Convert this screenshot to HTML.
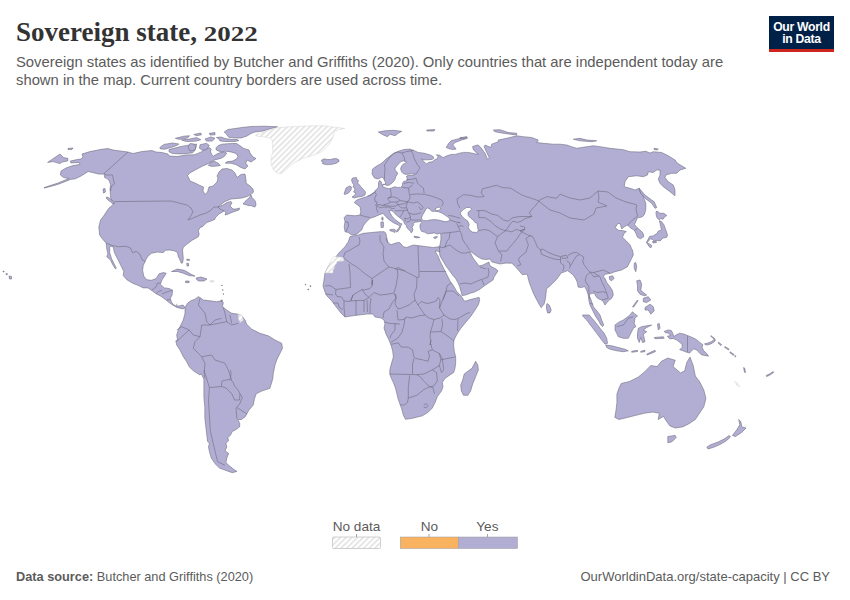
<!DOCTYPE html>
<html><head><meta charset="utf-8">
<style>
html,body{margin:0;padding:0;background:#fff;}
body{width:850px;height:600px;position:relative;overflow:hidden;font-family:"Liberation Sans",Arial,sans-serif;}
.t{position:absolute;white-space:nowrap;}
#title{left:16px;top:16.5px;font-family:"Liberation Serif",serif;font-weight:bold;font-size:27px;line-height:30px;color:#333;}
#yr{display:inline-block;transform:scaleY(0.77);transform-origin:50% 80%;}
#sub{left:16px;top:54px;font-size:14.8px;line-height:17.65px;color:#5b5b5b;}
#logo{position:absolute;left:769px;top:16px;width:65px;height:33px;background:#002147;}
#logobar{position:absolute;left:769px;top:49px;width:65px;height:3px;background:#ce261e;}
#logotxt{position:absolute;left:769px;top:21px;width:65px;text-align:center;color:#fff;font-weight:bold;font-size:12.2px;line-height:12.1px;letter-spacing:-0.3px;}
.lg{position:absolute;font-size:13.6px;line-height:16px;color:#5b5b5b;width:80px;text-align:center;}
#foot1{left:16px;top:569px;font-size:12.75px;color:#5b5b5b;}
#foot2{right:20px;top:569px;font-size:13px;color:#5b5b5b;}
</style></head><body>
<svg width="850" height="600" viewBox="0 0 850 600" style="position:absolute;left:0;top:0">
<defs>
<pattern id="hatch" patternUnits="userSpaceOnUse" width="4" height="4" patternTransform="rotate(45)">
<rect width="4" height="4" fill="#fff"/><rect width="1.4" height="4" fill="#dedede"/>
</pattern>
</defs>
<g fill="#b2aed3" stroke="#666477" stroke-width="0.55" stroke-linejoin="round">
<path d="M44.0,187.6 L58.0,183.0 L69.0,178.4 L63.6,177.6 L60.4,175.0 L61.0,171.0 L66.0,168.0 L73.0,165.6 L80.0,164.4 L79.0,162.4 L71.0,163.0 L70.4,161.0 L77.0,159.6 L81.0,159.0 L83.0,157.0 L82.0,154.0 L90.0,151.6 L98.0,150.0 L100.0,149.5 L108.0,148.5 L113.0,150.0 L128.0,152.0 L133.0,153.5 L142.0,151.5 L152.0,150.5 L156.0,152.0 L162.0,152.5 L168.0,154.0 L169.0,156.0 L178.0,156.5 L185.0,155.0 L194.2,154.8 L197.8,153.4 L201.3,151.9 L204.1,149.8 L206.9,148.1 L209.8,147.7 L211.2,149.1 L210.5,151.9 L211.9,154.8 L213.3,156.2 L216.8,154.1 L220.4,152.6 L223.9,151.9 L226.7,153.0 L224.6,156.2 L221.1,158.3 L216.8,159.4 L214.0,160.1 L211.2,161.8 L207.6,163.9 L202.7,166.1 L197.1,168.9 L192.1,171.7 L190.0,172.8 L187.5,175.5 L189.0,178.5 L190.0,181.0 L195.0,183.0 L200.0,185.5 L203.5,187.0 L203.0,191.0 L205.0,194.5 L207.5,192.0 L209.0,187.0 L213.0,186.0 L217.0,182.0 L218.0,178.0 L217.0,176.0 L219.0,172.0 L222.0,169.0 L227.0,168.5 L232.0,170.0 L235.0,173.0 L237.0,177.5 L241.0,174.5 L245.0,174.0 L246.0,180.0 L246.0,183.0 L250.0,186.0 L253.0,189.0 L253.5,192.0 L251.0,194.5 L247.0,196.5 L242.0,198.0 L237.0,198.5 L231.0,199.0 L225.0,201.5 L221.0,204.5 L218.0,207.0 L223.0,205.0 L227.0,202.5 L231.0,201.5 L232.0,203.0 L230.0,206.0 L233.0,209.0 L236.0,209.0 L239.5,208.0 L239.0,210.0 L233.0,212.0 L227.0,214.5 L225.0,215.0 L226.0,212.0 L224.0,211.0 L219.0,214.0 L215.0,218.0 L215.0,219.2 L211.7,220.8 L206.7,222.5 L205.0,224.2 L202.5,226.7 L200.0,227.5 L198.3,230.8 L199.2,234.2 L198.3,236.7 L195.8,238.3 L192.5,240.0 L189.2,242.5 L185.8,245.0 L183.3,247.5 L182.5,250.0 L182.9,254.2 L183.3,259.2 L182.5,262.9 L181.3,263.3 L180.0,260.0 L178.3,256.7 L177.5,252.5 L174.2,250.8 L169.2,250.0 L165.6,250.3 L163.2,252.6 L157.4,252.1 L151.5,253.2 L147.9,256.2 L145.6,260.3 L143.2,265.6 L142.6,270.3 L143.8,276.2 L146.8,279.7 L151.5,280.3 L156.2,278.5 L159.1,273.8 L163.2,272.6 L166.2,273.2 L164.4,276.2 L162.1,279.7 L160.3,284.4 L164.4,287.9 L169.1,288.5 L172.6,290.3 L172.1,295.0 L170.3,298.5 L171.5,302.1 L173.2,304.4 L176.0,306.0 L179.0,306.0 L183.0,305.0 L185.0,307.5 L183.0,309.0 L177.0,307.5 L172.6,305.0 L169.1,302.6 L165.6,299.7 L160.9,296.2 L156.2,293.8 L151.5,290.3 L147.9,287.9 L143.2,287.9 L138.5,285.6 L132.6,283.2 L126.8,279.7 L123.2,275.6 L123.8,271.5 L120.9,265.6 L117.4,258.5 L114.4,252.6 L113.2,246.8 L110.9,246.2 L109.7,247.4 L109.7,252.6 L111.5,258.5 L113.8,263.2 L116.2,267.9 L115.6,269.1 L112.6,264.4 L110.3,259.7 L106.8,256.8 L107.9,253.8 L106.8,249.1 L106.2,243.2 L102.1,238.5 L99.7,235.0 L98.8,227.0 L100.6,220.0 L104.1,215.3 L108.8,208.2 L112.4,205.3 L114.7,201.8 L112.0,200.5 L110.6,198.0 L110.6,195.0 L110.4,194.1 L110.0,189.4 L110.6,184.7 L109.4,181.2 L107.6,178.8 L104.7,177.6 L104.1,174.1 L98.8,174.1 L94.1,172.9 L88.2,171.5 L81.2,175.9 L75.3,178.8 L70.6,179.4 L57.6,184.5 L44.7,188.0Z"/><path d="M185.0,307.5 L187.5,303.3 L190.8,300.8 L195.0,299.2 L198.3,296.7 L200.0,297.5 L203.3,300.0 L210.0,300.8 L216.7,301.7 L221.7,300.8 L223.3,302.5 L222.5,306.7 L226.7,310.0 L231.7,313.3 L238.3,314.2 L241.7,315.8 L245.0,320.0 L246.7,324.2 L251.7,329.2 L260.0,333.3 L268.3,335.8 L275.0,340.0 L281.7,343.3 L282.5,348.3 L280.0,353.3 L276.7,360.0 L275.0,365.0 L273.3,373.3 L272.7,379.2 L269.9,388.3 L261.7,391.1 L256.2,393.8 L254.3,399.3 L253.4,404.8 L248.8,410.3 L245.2,416.8 L241.5,419.5 L237.8,419.5 L239.7,423.2 L239.7,426.8 L236.0,429.6 L232.3,431.4 L230.5,435.1 L227.8,437.8 L228.7,440.6 L225.9,443.3 L226.8,447.0 L225.0,450.7 L228.7,453.4 L226.8,458.0 L225.9,462.6 L228.7,465.3 L233.3,469.0 L236.9,471.4 L232.3,472.7 L226.8,470.8 L219.5,468.1 L214.9,463.5 L211.3,458.0 L209.4,451.6 L208.5,447.0 L209.4,443.3 L207.6,441.5 L206.7,434.2 L205.8,426.8 L204.8,417.7 L204.8,406.7 L203.9,397.5 L203.9,388.3 L203.9,379.2 L201.2,373.7 L200.0,375.0 L193.3,370.8 L189.2,366.7 L186.7,361.7 L183.3,356.7 L180.0,350.0 L176.7,345.0 L175.8,340.8 L177.5,340.0 L176.7,335.0 L178.3,330.0 L180.8,325.0 L183.3,320.0 L185.0,313.3Z"/><path d="M351.7,235.0 L348.3,232.5 L345.0,231.7 L344.2,226.7 L345.0,221.7 L344.2,217.5 L346.7,215.0 L355.0,215.8 L360.0,215.0 L360.8,211.7 L360.0,206.7 L354.2,202.5 L356.7,200.0 L361.7,198.3 L366.7,196.7 L370.0,195.0 L375.0,191.7 L377.0,189.0 L378.5,187.0 L378.5,183.0 L379.5,180.5 L381.0,181.5 L382.0,184.5 L383.0,185.5 L385.9,183.2 L384.7,180.9 L383.5,178.5 L382.0,177.0 L378.0,179.0 L374.5,178.0 L372.0,174.0 L372.5,169.0 L376.0,166.5 L382.0,163.0 L386.0,159.0 L390.0,156.0 L394.0,153.0 L399.0,151.0 L404.0,149.5 L410.0,149.1 L414.1,150.7 L418.2,152.4 L424.0,153.2 L429.8,154.8 L433.1,156.5 L433.9,158.1 L432.2,159.4 L428.1,159.8 L424.0,159.8 L421.5,158.9 L423.2,161.0 L426.5,163.9 L429.0,162.2 L432.2,161.8 L434.7,159.8 L437.2,158.9 L438.0,156.5 L436.4,154.8 L439.7,155.2 L443.0,157.7 L446.2,156.1 L451.2,154.4 L455.3,154.4 L459.4,153.2 L463.5,152.4 L467.7,152.4 L472.6,153.2 L475.9,154.0 L478.4,154.4 L473.4,149.9 L472.6,146.6 L475.9,145.4 L478.3,145.0 L480.8,147.5 L485.0,153.3 L487.5,159.2 L489.2,157.5 L486.7,152.5 L484.2,146.7 L485.0,145.0 L490.8,147.5 L491.7,144.2 L498.3,141.7 L498.3,140.0 L506.7,138.3 L516.7,135.8 L523.3,136.7 L531.7,137.5 L538.3,140.0 L536.7,142.5 L543.3,143.3 L553.3,144.2 L560.0,144.2 L566.7,145.0 L571.7,146.7 L576.7,148.3 L581.7,147.5 L586.7,146.7 L593.3,145.8 L600.0,146.7 L610.0,148.3 L623.3,149.7 L630.0,151.7 L640.0,152.0 L645.8,151.3 L650.0,153.0 L653.3,151.7 L661.7,152.5 L668.3,155.8 L675.0,160.0 L677.5,163.3 L685.8,168.3 L680.0,170.0 L676.7,173.3 L671.7,173.3 L665.8,175.0 L665.0,177.5 L668.3,181.7 L673.3,185.0 L675.0,190.0 L675.0,195.8 L670.0,191.7 L663.3,186.7 L660.0,183.3 L658.3,179.2 L660.0,175.0 L660.0,170.0 L656.7,170.0 L653.3,172.5 L648.3,171.7 L647.5,175.0 L643.3,176.7 L636.7,175.8 L628.3,176.7 L625.0,181.7 L624.2,186.7 L630.0,188.3 L635.0,190.0 L639.2,188.3 L640.0,191.7 L643.3,196.7 L645.8,203.3 L645.8,205.0 L645.8,209.5 L644.3,214.8 L642.0,217.0 L637.5,217.8 L636.5,220.0 L634.5,224.5 L636.8,227.5 L639.8,229.8 L642.8,232.8 L643.9,236.5 L640.5,238.8 L637.5,237.3 L636.0,233.5 L634.5,230.5 L632.3,229.0 L630.0,227.5 L627.8,225.3 L626.3,225.6 L623.3,227.5 L621.8,229.0 L621.0,226.8 L620.3,223.8 L618.0,223.4 L615.8,226.8 L615.0,227.5 L618.8,230.5 L622.5,230.5 L626.3,231.6 L624.0,233.5 L622.5,237.3 L626.3,241.0 L630.0,244.8 L631.5,248.5 L632.5,250.0 L633.3,255.0 L631.7,258.3 L629.2,263.3 L627.5,266.7 L621.7,270.0 L615.0,271.7 L610.8,273.3 L605.0,274.2 L603.3,276.7 L605.0,278.3 L606.7,282.5 L610.0,286.7 L612.5,290.8 L613.3,295.0 L611.7,298.3 L608.3,300.8 L605.0,305.0 L603.3,301.7 L601.7,300.0 L599.2,299.2 L596.7,297.5 L594.2,293.3 L590.8,293.3 L589.2,295.8 L590.8,299.2 L593.3,306.7 L597.5,311.7 L600.0,315.0 L601.7,320.0 L603.7,325.0 L602.5,326.5 L600.5,324.5 L599.2,321.7 L595.8,316.7 L593.3,311.7 L590.0,305.0 L588.8,300.0 L588.2,294.7 L586.5,290.0 L584.7,286.5 L581.2,287.6 L578.2,287.1 L577.1,281.8 L575.3,278.2 L572.9,274.7 L570.6,272.9 L567.6,270.6 L564.7,271.8 L561.2,272.9 L560.0,274.7 L556.5,279.4 L552.9,282.9 L549.4,286.5 L546.5,288.8 L545.9,294.7 L545.3,299.4 L544.1,304.1 L541.2,307.6 L539.4,304.7 L536.5,299.4 L533.5,293.5 L531.2,287.6 L529.4,282.9 L528.2,278.2 L527.1,274.1 L522.4,274.7 L518.8,270.6 L515.3,266.5 L511.8,263.2 L506.0,263.1 L500.0,264.0 L492.0,262.0 L490.0,259.0 L486.0,259.5 L482.0,259.0 L478.0,257.0 L474.0,254.0 L470.0,251.0 L470.0,252.0 L473.0,258.0 L476.0,262.0 L479.0,266.0 L483.0,265.0 L487.0,263.0 L489.0,262.0 L489.5,265.0 L492.0,267.0 L496.0,269.0 L498.0,271.0 L496.0,274.0 L494.0,277.0 L493.0,280.0 L490.0,282.0 L487.0,284.0 L483.2,286.8 L479.1,289.7 L474.4,292.1 L470.3,293.2 L465.6,295.0 L462.1,295.6 L460.9,290.9 L459.7,286.8 L457.9,282.6 L455.6,278.5 L452.6,275.0 L449.0,270.0 L446.0,266.0 L443.0,261.0 L440.0,256.0 L439.5,252.0 L439.2,246.7 L440.1,244.5 L440.9,239.5 L440.9,235.4 L440.1,232.9 L437.6,234.2 L434.3,232.9 L431.0,233.4 L427.7,233.8 L424.4,232.1 L421.5,231.3 L420.3,228.8 L419.9,226.4 L420.3,223.9 L422.0,222.2 L421.1,221.4 L418.7,221.8 L415.4,222.2 L412.9,223.5 L413.7,224.7 L412.1,227.2 L412.9,229.7 L412.1,232.1 L411.2,232.9 L410.4,231.3 L408.8,229.7 L407.1,228.0 L406.3,225.5 L404.7,223.9 L403.8,221.4 L402.2,219.8 L399.7,217.7 L397.2,215.7 L394.8,213.6 L393.1,211.5 L391.5,210.7 L389.0,210.7 L390.2,213.2 L392.3,216.5 L394.8,219.4 L398.1,221.8 L400.5,223.5 L402.2,223.9 L401.4,224.7 L399.7,228.8 L398.1,231.3 L396.4,232.1 L397.2,229.7 L398.9,228.0 L399.7,226.4 L398.1,224.7 L394.8,223.5 L391.5,221.4 L388.2,218.9 L385.7,216.5 L383.2,213.5 L380.0,214.4 L375.0,216.7 L370.0,218.3 L365.8,222.5 L363.3,225.8 L361.7,230.0 L356.7,234.2Z"/><path d="M350.0,236.7 L353.3,235.8 L358.3,235.0 L363.3,233.3 L371.7,232.5 L380.0,231.7 L384.1,231.7 L385.7,232.9 L386.5,236.2 L387.4,241.2 L389.0,243.7 L391.5,244.5 L396.4,242.8 L399.7,242.5 L403.3,246.7 L406.7,247.5 L413.3,245.0 L420.0,245.8 L426.7,246.7 L433.3,247.5 L439.2,246.7 L440.0,252.0 L437.0,251.0 L435.0,251.0 L438.0,256.0 L440.0,261.0 L443.0,267.0 L447.0,275.0 L450.0,281.0 L453.0,285.0 L456.8,291.5 L460.3,295.0 L462.1,297.4 L463.8,300.3 L465.0,301.2 L469.7,299.7 L474.4,298.5 L479.1,297.4 L479.7,299.7 L478.5,304.4 L475.0,310.0 L471.0,316.0 L466.0,322.0 L461.0,328.0 L457.0,334.0 L454.0,340.0 L453.6,345.7 L454.3,351.3 L455.7,357.0 L455.7,362.7 L455.0,368.3 L453.6,372.6 L449.3,375.4 L445.1,378.3 L442.3,382.5 L443.0,386.8 L441.5,391.0 L439.4,393.8 L437.3,396.7 L435.2,402.3 L432.3,408.0 L428.1,412.3 L422.4,415.8 L416.8,417.2 L411.1,418.6 L405.4,419.3 L403.3,415.1 L401.9,409.4 L399.8,403.8 L398.3,399.5 L396.9,393.8 L395.5,388.2 L393.4,382.5 L391.3,378.3 L389.8,374.0 L389.8,369.8 L391.3,364.1 L393.4,357.0 L392.7,351.3 L391.3,346.0 L389.0,340.0 L386.0,334.0 L384.0,328.0 L385.0,324.0 L384.0,320.0 L381.0,318.0 L375.0,317.0 L373.0,314.0 L367.0,314.0 L359.0,315.0 L351.0,316.0 L345.0,317.0 L341.0,313.0 L337.0,308.0 L334.0,304.0 L331.0,300.0 L327.0,296.0 L325.0,292.0 L323.0,286.0 L324.0,280.0 L325.0,273.0 L328.0,267.0 L331.0,262.0 L335.0,258.0 L336.7,255.8 L340.0,251.7 L345.0,246.7 L348.3,241.7Z"/><path d="M321.5,160.1 L323.0,159.5 L324.1,158.8 L327.0,159.6 L330.6,159.5 L334.0,158.6 L337.1,158.8 L339.0,160.0 L339.0,161.4 L335.8,163.4 L330.6,164.6 L325.4,164.6 L322.2,163.4 L323.5,162.0 L321.8,161.5Z"/><path d="M352.5,178.0 L356.5,177.5 L357.0,180.0 L358.5,180.5 L357.5,183.0 L359.5,185.0 L361.0,187.0 L363.0,189.0 L365.5,192.0 L365.0,195.0 L362.0,196.5 L358.0,197.0 L354.0,198.0 L352.0,197.0 L355.0,195.0 L356.0,193.0 L353.5,192.0 L355.0,190.0 L354.5,188.0 L353.0,187.0 L354.0,185.0 L352.5,183.0 L351.5,180.0Z"/><path d="M344.0,194.0 L346.0,188.0 L349.5,186.0 L351.5,187.0 L351.0,190.0 L348.5,193.0 L345.0,194.5Z"/><path d="M383.0,184.3 L385.0,184.5 L385.0,185.8 L383.0,185.8Z"/><path d="M378.3,132.0 L385.0,130.8 L393.3,130.3 L401.7,131.3 L398.3,133.3 L395.0,135.8 L390.0,134.2 L387.5,136.7 L383.3,135.0Z"/><path d="M446.2,147.4 L448.7,143.3 L451.2,140.8 L456.7,139.2 L466.7,136.7 L467.5,138.3 L461.7,140.0 L455.0,142.5 L452.8,144.9 L456.1,149.1 L452.8,149.5 L448.7,148.6Z"/><path d="M493.3,130.0 L500.0,129.7 L508.3,132.5 L516.7,133.3 L516.7,135.0 L510.0,134.2 L501.7,133.0 L495.0,131.7Z"/><path d="M573.3,139.2 L580.0,138.3 L586.7,140.0 L596.7,140.8 L591.7,141.7 L580.0,140.8Z"/><path d="M460.0,137.5 L466.7,137.0 L465.0,138.7 L460.0,138.5Z"/><path d="M426.7,130.0 L435.0,129.6 L434.0,131.0 L427.0,131.0Z"/><path d="M654.0,148.3 L658.3,149.0 L657.0,150.0 L654.0,149.5Z"/><path d="M639.2,188.3 L645.0,195.0 L651.7,200.0 L654.2,201.7 L656.7,207.5 L655.0,208.3 L651.7,203.3 L645.0,198.3 L640.8,193.3Z"/><path d="M655.9,212.1 L657.0,211.0 L660.0,213.3 L663.8,213.3 L666.8,215.5 L664.5,217.0 L663.0,219.3 L660.8,218.5 L659.3,220.0 L657.0,217.8 L656.3,215.5Z"/><path d="M659.3,220.8 L661.5,221.5 L663.8,224.5 L664.9,227.5 L666.0,230.5 L667.5,235.0 L666.8,237.3 L663.0,238.0 L660.0,241.0 L657.0,240.3 L654.8,241.8 L652.5,239.5 L650.3,238.8 L648.0,241.8 L646.5,242.5 L649.5,236.5 L653.3,235.8 L657.0,233.5 L658.1,231.3 L661.5,229.8 L660.8,226.8 L660.0,223.0Z"/><path d="M652.5,241.5 L656.0,241.0 L656.5,242.5 L653.0,243.0Z"/><path d="M646.5,242.5 L649.5,244.0 L651.8,245.5 L651.0,247.8 L649.5,247.0 L648.0,244.8Z"/><path d="M634.2,263.3 L635.8,262.5 L636.7,266.7 L635.8,271.7 L634.2,268.3Z"/><path d="M609.2,276.7 L612.5,275.8 L614.2,278.3 L611.7,280.8 L609.7,279.7Z"/><path d="M547.1,303.5 L549.4,305.3 L551.2,310.0 L550.0,312.9 L547.6,312.9 L546.5,308.8 L546.5,305.3Z"/><path d="M636.7,280.8 L640.0,280.0 L641.7,284.2 L640.8,290.0 L643.3,292.5 L646.7,295.0 L644.2,295.8 L640.0,294.2 L637.5,290.8 L637.5,285.8Z"/><path d="M643.3,298.3 L648.3,296.7 L650.8,300.0 L646.7,302.5 L643.3,301.7Z"/><path d="M645.0,307.5 L650.0,304.2 L653.3,306.7 L654.2,310.8 L650.8,314.2 L648.3,310.0 L645.0,310.0Z"/><path d="M632.5,306.7 L637.5,300.0 L638.0,300.8 L633.5,307.2Z"/><path d="M582.5,315.0 L589.2,315.0 L595.0,321.7 L600.0,328.3 L604.2,333.3 L606.7,338.3 L607.5,343.3 L605.0,344.2 L601.7,340.0 L596.7,333.3 L591.7,326.7 L586.7,320.0 L583.3,316.7Z"/><path d="M657.5,324.2 L659.2,323.3 L660.0,328.3 L658.3,330.0Z"/><path d="M654.2,337.5 L663.3,336.7 L664.2,338.3 L655.0,338.7Z"/><path d="M605.8,345.0 L611.7,345.8 L618.3,347.5 L625.0,349.2 L628.3,350.8 L623.3,351.7 L616.7,350.8 L610.0,349.2 L606.7,347.5Z"/><path d="M631.7,351.3 L637.5,350.3 L637.5,351.5 L631.7,352.3Z"/><path d="M640.8,351.3 L645.0,350.3 L645.0,351.6 L640.8,352.3Z"/><path d="M646.7,354.2 L651.0,352.0 L655.0,350.3 L655.5,351.5 L651.0,353.5 L647.0,355.0Z"/><path d="M615.0,325.0 L618.3,322.5 L623.3,320.0 L626.7,317.5 L630.0,315.0 L632.5,311.7 L635.0,314.2 L637.5,315.8 L635.0,318.3 L634.2,323.3 L635.8,326.7 L633.3,328.3 L630.8,333.3 L628.3,338.3 L623.3,338.3 L618.3,336.7 L616.7,333.3 L615.0,330.0Z"/><path d="M638.3,328.3 L641.7,326.7 L646.7,325.8 L651.7,325.0 L646.7,327.5 L643.3,330.0 L646.7,331.7 L643.3,334.2 L645.0,341.7 L642.5,342.5 L640.8,337.5 L639.2,342.5 L637.5,338.3 L637.5,333.3Z"/><path d="M664.1,331.5 L668.2,329.9 L671.5,330.7 L672.7,333.2 L673.9,336.5 L676.4,334.8 L679.7,333.2 L683.8,334.0 L688.0,335.7 L692.9,337.7 L696.2,339.4 L699.5,342.2 L702.8,344.7 L702.0,347.2 L703.6,350.5 L706.9,353.8 L708.5,356.2 L704.4,355.4 L701.1,354.6 L698.7,352.1 L696.2,349.7 L693.7,348.8 L691.2,351.3 L689.6,353.0 L686.3,352.1 L682.2,350.5 L679.7,349.7 L682.2,347.2 L682.2,344.7 L679.7,342.2 L676.4,339.8 L673.1,338.5 L669.8,338.9 L668.2,337.3 L667.4,336.1 L670.6,335.7 L669.0,333.2 L665.7,332.8Z"/><path d="M704.4,343.9 L707.7,343.1 L711.8,341.4 L713.5,339.8 L715.5,339.8 L714.3,341.8 L710.9,343.9 L706.9,345.1Z"/><path d="M711.0,335.7 L715.1,338.9 L714.6,339.4 L710.6,336.2Z"/><path d="M619.1,387.8 L621.2,383.5 L629.6,381.4 L638.1,377.2 L644.5,371.9 L650.8,365.5 L657.2,366.6 L661.4,361.3 L667.8,358.1 L675.2,360.2 L673.1,366.6 L680.5,372.9 L684.7,370.8 L686.8,362.4 L690.0,357.1 L693.2,365.5 L695.3,376.1 L699.5,381.4 L703.8,389.9 L705.9,398.4 L703.8,406.8 L699.5,413.2 L695.3,419.5 L688.9,423.8 L682.6,426.9 L675.2,428.0 L669.9,425.9 L666.7,421.6 L663.5,416.4 L658.2,419.5 L659.3,413.2 L652.9,412.1 L644.5,413.2 L636.0,415.3 L627.5,417.4 L619.1,419.5 L614.8,417.4 L615.9,411.1 L616.9,402.6 L616.9,394.1Z"/><path d="M667.8,436.5 L675.2,435.4 L676.2,437.5 L672.0,441.8 L667.8,442.8Z"/><path d="M738.7,419.5 L740.8,421.6 L741.9,426.9 L746.1,428.0 L741.9,432.2 L735.5,436.5 L732.4,435.4 L736.6,430.1 L739.8,424.8Z"/><path d="M729.2,435.4 L724.9,438.6 L718.6,441.8 L710.1,444.9 L706.9,447.1 L708.0,449.0 L713.0,447.5 L720.0,444.5 L726.0,441.0 L730.5,437.0Z"/><path d="M475.6,361.3 L477.7,364.8 L478.4,369.8 L475.6,376.8 L472.7,383.9 L470.6,391.0 L467.8,395.3 L463.5,395.3 L461.4,391.0 L460.7,385.3 L462.8,379.7 L464.2,374.0 L467.8,371.2 L472.0,368.3Z"/><path d="M171.5,271.5 L177.4,269.1 L184.4,270.3 L190.3,273.8 L195.0,276.2 L189.1,275.6 L183.2,273.2 L177.4,271.5Z"/><path d="M186.8,259.1 L189.5,259.5 L189.5,260.5 L186.8,260.2Z"/><path d="M186.8,263.2 L188.5,263.5 L188.5,266.0 L187.0,266.0Z"/><path d="M196.0,278.0 L201.0,277.0 L207.0,279.0 L204.0,281.0 L199.0,281.0 L197.0,280.0Z"/><path d="M185.6,281.0 L189.1,281.0 L189.1,282.6 L185.6,282.6Z"/><path d="M243.0,204.0 L245.0,201.5 L249.0,198.0 L251.0,195.0 L252.0,197.5 L254.0,199.5 L255.5,201.5 L256.0,205.0 L255.0,207.0 L253.0,206.5 L251.0,205.5 L249.0,205.8 L247.0,205.0 L245.0,204.5Z"/><path d="M216.1,147.7 L218.2,145.6 L221.8,144.2 L226.7,143.8 L232.4,143.5 L236.6,143.5 L240.8,146.3 L243.6,148.4 L249.0,150.0 L250.0,153.0 L253.0,157.0 L256.0,158.5 L251.0,162.0 L247.0,160.0 L245.8,163.2 L247.9,166.1 L245.1,168.9 L240.8,167.5 L235.9,164.6 L230.9,163.2 L225.3,163.2 L226.7,161.8 L232.4,161.1 L236.6,159.0 L238.0,156.2 L235.9,153.4 L230.9,151.9 L225.3,151.2 L221.8,151.9 L218.2,150.9 L216.1,149.8Z"/><path d="M208.4,165.4 L210.5,162.5 L214.0,161.1 L218.2,163.2 L220.4,165.4 L216.8,166.1 L211.9,166.4Z"/><path d="M224.2,131.9 L228.0,129.5 L235.0,128.5 L242.0,127.5 L251.0,126.5 L265.0,126.2 L277.5,126.8 L271.0,128.5 L263.0,131.0 L255.0,132.0 L251.0,133.5 L247.0,136.0 L241.0,138.0 L235.0,138.0 L229.0,137.5 L226.3,134.0Z"/><path d="M216.5,137.5 L221.0,137.0 L225.0,138.5 L231.0,139.5 L237.0,139.5 L239.0,140.5 L235.0,141.5 L225.0,141.5 L220.0,141.0 L219.0,139.0Z"/><path d="M159.8,147.5 L164.0,144.4 L172.5,143.0 L178.9,144.0 L176.8,145.4 L171.1,147.5 L164.7,149.2 L160.5,148.9Z"/><path d="M169.0,149.6 L179.6,146.8 L186.7,145.4 L192.3,144.7 L196.6,144.0 L195.9,147.5 L194.5,151.0 L192.3,152.9 L186.7,153.5 L179.6,153.9 L172.5,153.5 L169.0,151.8Z"/><path d="M175.3,138.3 L183.8,136.2 L189.5,135.7 L188.1,137.6 L183.8,139.0 L178.9,139.3Z"/><path d="M181.7,140.1 L189.5,139.0 L196.6,137.6 L200.8,139.7 L196.6,141.1 L186.7,141.6Z"/><path d="M193.8,134.5 L200.8,133.0 L201.5,134.8 L196.6,135.7Z"/><path d="M205.1,139.0 L210.8,136.9 L215.0,138.3 L212.2,141.1 L206.5,141.1Z"/><path d="M209.3,133.3 L215.0,132.6 L215.0,134.8 L210.0,135.0Z"/><path d="M200.1,144.7 L206.5,143.3 L209.3,145.4 L206.5,149.6 L202.3,150.3 L199.4,148.2Z"/><path d="M190.0,143.5 L194.0,144.0 L196.0,147.0 L195.0,150.0 L190.0,151.0 L188.0,147.0Z"/><path d="M47.6,162.4 L60.0,154.0 L63.6,157.6 L68.0,158.4 L67.6,161.0 L62.0,162.0 L60.0,163.6 L53.0,161.6Z"/><path d="M68.0,148.4 L73.0,148.0 L72.0,149.4 L68.0,149.6Z"/><path d="M106.5,197.0 L108.5,197.5 L112.0,200.5 L114.2,203.3 L113.0,203.8 L109.0,200.8 L106.5,198.5Z"/><path d="M103.0,189.0 L105.0,188.5 L105.5,192.0 L103.5,193.0Z"/><path d="M381.6,217.7 L382.8,216.9 L383.2,219.8 L382.0,220.2Z"/><path d="M380.8,222.2 L383.2,221.8 L383.6,224.7 L383.2,227.6 L381.2,227.6 L380.8,224.7Z"/><path d="M389.8,229.7 L393.9,229.2 L395.6,230.1 L394.8,232.5 L392.3,231.3 L390.2,230.9Z"/><path d="M414.1,236.2 L417.8,236.7 L419.9,237.5 L416.2,237.9 L414.1,237.2Z"/><path d="M433.5,237.5 L436.8,236.2 L437.6,237.1 L435.1,238.7Z"/><path d="M9.0,276.0 L11.5,276.5 L11.5,279.0 L9.5,279.0Z"/><path d="M6.0,273.5 L7.5,273.8 L7.2,274.8 L6.0,274.6Z"/><path d="M3.0,271.0 L4.2,271.3 L4.0,272.0 L3.0,271.9Z"/><path d="M718.6,342.2 L721.8,344.8 L721.0,345.6 L718.0,343.0Z"/><path d="M725.0,346.5 L729.2,349.2 L728.5,350.0 L724.5,347.3Z"/><path d="M730.2,351.8 L734.0,354.5 L733.4,355.4 L729.8,352.6Z"/><path d="M735.0,355.5 L736.0,356.3 L735.5,357.0 L734.5,356.2Z"/><path d="M743.6,367.6 L744.6,368.0 L745.5,372.5 L744.5,372.3Z"/><path d="M766.2,375.5 L769.4,374.0 L773.2,371.5 L773.6,372.5 L770.0,375.0 L766.6,376.6Z"/><path d="M305.2,284.2 L306.0,284.5 L305.6,285.2Z"/><path d="M310.0,285.5 L311.0,286.0 L310.5,287.0Z"/><path d="M307.5,289.5 L309.0,289.0 L308.5,290.0Z"/><path d="M221.5,285.0 L222.3,285.3 L222.0,286.0Z"/><path d="M222.5,289.5 L223.2,289.8 L222.8,290.6Z"/><path d="M223.0,293.5 L223.8,293.8 L223.4,294.6Z"/><path d="M221.0,300.0 L222.5,300.2 L222.2,301.3 L221.0,301.2Z"/>
</g>
<g fill="#fff" stroke="#666477" stroke-width="0.55">
<path d="M421.7,217.5 L422.5,215.0 L424.2,212.5 L425.8,209.2 L427.5,207.9 L430.0,209.2 L431.7,211.3 L435.0,211.3 L438.3,211.7 L441.7,212.9 L445.0,215.0 L447.9,217.1 L450.0,219.2 L448.3,221.3 L445.0,221.7 L441.7,220.8 L438.3,220.0 L434.2,219.6 L430.0,220.0 L426.7,220.8 L423.3,220.4 L421.7,219.2Z"/><path d="M435.0,208.8 L437.5,207.5 L440.0,207.1 L440.8,209.2 L438.3,210.4 L435.8,210.4Z"/><path d="M460.4,212.5 L463.3,209.6 L466.7,207.5 L470.0,207.5 L471.7,209.2 L470.0,210.8 L467.9,212.5 L468.3,215.8 L470.8,218.3 L473.3,220.0 L475.0,222.5 L477.1,223.3 L477.5,226.7 L478.3,230.8 L476.7,232.5 L472.5,232.1 L469.6,230.0 L468.3,227.5 L469.2,224.2 L467.5,220.8 L465.0,219.2 L462.5,216.7 L460.8,214.6Z"/><path d="M401.2,161.5 L403.5,160.9 L406.5,161.8 L405.3,163.2 L402.9,164.4 L401.2,166.8 L400.6,169.1 L401.8,172.1 L403.5,173.8 L406.5,174.4 L410.6,173.8 L415.3,174.1 L412.9,175.3 L408.2,175.3 L406.5,176.2 L407.1,178.5 L407.6,180.3 L405.9,180.9 L403.5,181.5 L402.6,183.2 L402.4,185.6 L400.6,187.4 L397.6,187.4 L394.7,186.8 L391.8,187.9 L388.8,188.8 L385.9,187.9 L382.9,186.8 L382.4,185.0 L384.7,184.4 L387.1,185.6 L389.4,185.0 L391.8,183.2 L394.1,180.9 L395.3,178.5 L395.9,176.2 L397.6,173.8 L397.1,172.1 L395.3,170.9 L395.0,168.5 L396.5,166.2 L398.8,163.8 L400.3,162.1Z"/>
</g>
<g fill="url(#hatch)" stroke="#cfcfcf" stroke-width="0.45">
<path d="M238.3,314.2 L241.7,315.0 L243.3,320.0 L240.0,322.5 L238.3,318.3Z"/><path d="M334.0,256.5 L343.5,257.5 L343.5,261.0 L337.0,261.5 L336.5,264.0 L335.0,265.0 L334.0,269.0 L333.0,269.5 L333.0,273.0 L325.0,273.0 L327.0,269.0 L330.0,263.0 L332.0,259.0Z"/><path d="M255.5,134.9 L263.3,132.3 L271.0,129.7 L277.5,127.8 L285.3,127.1 L298.2,126.5 L311.2,125.8 L324.1,125.8 L333.2,127.1 L344.8,128.4 L338.4,129.7 L334.5,131.6 L333.2,136.8 L330.6,142.0 L326.7,147.2 L322.8,151.1 L317.6,153.6 L309.9,156.2 L302.1,158.8 L294.4,162.7 L289.2,166.6 L284.0,171.8 L281.4,173.7 L277.5,173.1 L273.6,170.5 L271.1,164.0 L271.1,157.5 L273.0,151.7 L272.4,147.2 L272.4,140.7 L269.8,138.1 L263.3,136.8 L256.8,136.2Z"/><path d="M210.0,280.6 L214.0,280.6 L214.0,282.0 L210.0,282.0Z"/><path d="M734.5,381.4 L737.0,382.5 L739.8,386.7 L737.5,386.0Z"/>
</g>
<g fill="none" stroke="#666477" stroke-width="0.55" stroke-linejoin="round">
<path d="M359.0,237.0 L360.0,241.0 L359.0,245.0 L355.0,247.0 L350.0,250.0 L345.0,252.5 L343.5,257.0"/><path d="M343.5,257.5 L350.0,263.0 L357.0,267.0 L364.0,273.0 L372.0,278.5 L380.0,273.0 L389.0,267.0"/><path d="M349.0,264.0 L350.0,273.0 L350.5,287.5 L336.0,289.5 L330.0,285.5 L325.0,286.0"/><path d="M372.0,278.5 L372.0,285.0 L372.5,280.0"/><path d="M380.0,235.0 L380.0,241.0 L384.0,247.0 L383.0,253.0 L384.0,261.0 L388.0,266.0 L389.0,267.0"/><path d="M386.0,238.0 L388.0,243.0"/><path d="M389.0,267.0 L397.0,269.0 L405.0,271.0"/><path d="M397.0,269.0 L398.0,275.0 L397.0,280.0 L396.0,286.0 L394.0,292.5"/><path d="M336.0,289.5 L335.5,294.0 L337.0,296.5 L341.5,297.0 L344.0,301.0 L350.0,301.5 L353.0,295.0 L362.0,289.5 L364.0,290.0 L370.0,288.5 L372.0,286.0 L372.5,280.0"/><path d="M353.0,295.0 L351.0,301.0 L356.0,300.5 L364.0,300.5 L369.0,297.5 L365.0,294.0 L362.0,289.5"/><path d="M369.0,297.5 L374.0,292.5 L380.0,295.0 L386.0,294.5 L394.0,293.0 L396.0,295.0"/><path d="M396.0,295.0 L396.0,298.0 L392.0,303.0 L389.0,309.0 L384.0,312.0 L383.0,318.0"/><path d="M371.0,298.0 L370.0,306.0 L370.0,313.0"/><path d="M364.0,300.5 L364.0,312.0"/><path d="M367.0,300.0 L367.5,312.0"/><path d="M356.0,300.5 L356.0,315.0"/><path d="M344.0,301.0 L344.0,308.0 L345.0,317.0"/><path d="M333.0,303.0 L338.0,303.0 L339.0,307.0 L341.5,309.0 L343.0,309.0"/><path d="M325.0,294.0 L330.0,294.5 L333.0,295.0"/><path d="M418.0,246.0 L418.5,260.0 L419.0,271.0 L419.0,277.0 L417.0,277.5 L398.0,267.5 L395.0,269.0"/><path d="M419.5,271.5 L446.0,271.5"/><path d="M417.0,277.5 L416.5,288.0 L414.0,294.0 L415.0,300.0 L409.0,305.0 L402.0,308.0 L398.0,309.0 L395.0,304.0 L396.0,298.0 L394.5,294.0"/><path d="M451.0,283.0 L447.0,286.0 L446.0,292.0 L443.0,300.0"/><path d="M446.0,291.0 L453.0,291.0 L459.0,296.0"/><path d="M446.0,291.0 L441.0,304.0 L439.5,308.0 L444.0,315.0"/><path d="M418.0,305.0 L421.0,301.5 L427.0,303.5 L432.0,302.5 L436.0,301.0 L438.0,297.5 L440.0,300.0 L439.5,308.0"/><path d="M415.0,300.0 L418.0,305.0 L425.0,315.0 L429.0,318.0 L434.0,319.5 L440.0,318.0 L444.0,315.0"/><path d="M425.0,315.0 L418.0,316.0 L412.0,318.0 L406.0,317.0 L404.0,319.5 L398.0,320.0 L397.0,310.0"/><path d="M444.0,315.0 L450.0,319.0 L455.0,319.5 L459.0,318.0 L464.0,315.0 L470.0,312.0"/><path d="M458.0,319.0 L457.5,331.0"/><path d="M434.0,319.5 L432.0,327.0 L430.5,332.0 L441.0,331.5 L442.5,325.0 L442.0,319.0"/><path d="M441.0,331.5 L449.0,337.0 L454.0,341.0"/><path d="M430.5,332.0 L430.0,337.0 L431.0,341.0 L430.0,345.0 L430.9,340.0"/><path d="M405.0,318.0 L404.0,325.0 L402.0,332.0 L398.0,338.0 L393.0,341.0 L391.0,342.5"/><path d="M385.0,322.0 L390.0,323.5 L400.0,324.0"/><path d="M395.0,323.0 L395.0,330.0 L391.0,335.0 L390.0,338.0"/><path d="M391.3,344.3 L398.3,342.8 L401.2,347.1 L408.3,347.1 L412.5,349.9 L413.9,357.0 L415.3,358.4"/><path d="M413.9,358.4 L412.5,364.1 L412.5,374.0"/><path d="M389.8,374.0 L416.8,374.7"/><path d="M415.3,358.4 L422.4,359.8 L428.1,361.3 L429.5,355.6 L428.1,351.3 L432.3,349.9 L430.9,344.0"/><path d="M432.3,349.9 L439.4,353.5 L440.8,359.8 L439.4,365.5 L432.3,369.8"/><path d="M440.8,359.8 L455.0,357.0"/><path d="M439.4,353.5 L442.3,358.4 L443.7,369.8 L441.5,372.6 L439.4,365.5"/><path d="M416.8,374.7 L423.8,374.0 L432.3,369.8"/><path d="M432.3,369.8 L436.6,372.6 L437.3,381.1 L433.8,386.0 L429.5,386.8"/><path d="M416.8,374.7 L420.3,376.8 L423.8,381.1 L429.5,386.8"/><path d="M409.7,375.4 L408.3,386.8 L408.3,398.1"/><path d="M408.3,398.1 L416.8,395.3 L423.8,389.6 L429.5,386.8 L433.0,387.5 L434.5,393.8"/><path d="M408.3,398.1 L407.5,402.3 L404.0,405.2 L400.5,404.5"/><path d="M423.8,405.2 L426.0,403.5 L428.1,405.5 L426.0,408.0 L423.8,407.0"/><path d="M440.0,246.0 L441.0,248.0"/><path d="M441.0,248.0 L444.0,247.0 L450.0,245.0 L456.0,250.0 L461.0,253.0 L466.0,253.0 L468.0,252.0 L470.0,253.0"/><path d="M460.0,284.0 L465.0,283.0 L471.0,284.0 L475.0,282.0 L480.0,280.0 L483.0,279.0 L488.0,277.0 L489.0,272.0 L488.0,268.0"/><path d="M482.0,280.0 L484.0,285.0"/><path d="M480.0,267.0 L486.0,269.0"/><path d="M384.5,179.5 L384.5,175.0 L385.0,170.0 L384.5,165.0 L387.0,161.0 L390.0,157.0 L394.0,153.5 L398.0,152.0 L402.0,153.0 L405.0,152.0 L410.0,151.0 L414.0,150.0"/><path d="M402.0,153.0 L404.0,157.0 L405.0,161.0"/><path d="M411.0,151.0 L413.0,154.0 L414.0,158.0 L417.0,164.0 L420.0,168.0 L416.0,174.0"/><path d="M367.4,196.4 L371.5,194.7 L374.8,192.2 L375.6,189.8"/><path d="M374.8,192.2 L376.4,194.7 L374.8,198.0 L374.8,201.3 L377.2,202.1 L375.6,205.4"/><path d="M375.6,205.4 L378.9,204.6 L383.0,205.4 L383.8,204.6 L388.0,203.8 L390.4,202.1 L388.0,199.7 L388.0,198.0 L391.2,196.4 L391.2,193.9 L390.4,188.9"/><path d="M388.0,198.0 L393.7,196.8 L397.8,198.4 L400.3,200.5 L396.2,202.1 L390.4,202.1"/><path d="M396.2,202.1 L397.8,204.6 L395.4,206.2 L389.6,206.2 L383.0,205.4"/><path d="M400.3,200.5 L404.4,201.3 L407.7,201.7 L404.4,203.8 L397.8,204.6"/><path d="M402.0,187.3 L408.5,188.1 L412.7,184.8"/><path d="M408.5,188.1 L409.4,194.7 L410.2,198.0 L407.7,201.7"/><path d="M403.6,183.6 L408.5,182.4 L414.3,183.2"/><path d="M406.1,179.9 L412.7,179.1 L416.0,178.2"/><path d="M416.0,178.2 L417.6,183.2 L420.1,185.7 L423.4,188.1 L424.2,193.1"/><path d="M410.2,194.7 L416.8,193.9 L424.2,194.3 L431.0,196.0 L435.8,197.5 L441.7,200.0 L443.3,203.3 L441.7,206.2"/><path d="M407.7,201.7 L412.7,203.0 L417.6,202.1 L420.9,204.6 L423.4,207.9"/><path d="M407.7,201.7 L406.1,206.2 L407.7,210.4"/><path d="M397.8,204.6 L401.1,207.9 L406.1,207.9"/><path d="M377.2,205.4 L379.7,207.9 L383.8,207.1 L389.6,207.1 L392.1,208.7"/><path d="M377.2,205.4 L376.4,208.7 L378.1,212.8"/><path d="M360.0,215.0 L365.0,216.5 L370.0,217.5"/><path d="M345.0,221.7 L348.0,222.0 L348.5,226.0 L347.0,229.0 L346.5,231.5"/><path d="M391.5,209.0 L394.8,208.2"/><path d="M394.8,210.7 L399.7,210.7 L403.8,210.7 L402.2,214.0 L399.7,217.3"/><path d="M403.8,210.7 L407.1,209.9 L408.8,213.2 L410.4,216.5 L408.0,218.9 L404.7,218.1"/><path d="M408.8,213.2 L413.7,214.4 L418.7,213.6 L421.1,212.4"/><path d="M410.4,216.5 L410.4,219.8 L414.5,220.2 L419.5,219.8 L421.1,220.2"/><path d="M406.3,222.2 L409.6,221.4 L410.4,219.8"/><path d="M404.7,218.1 L405.5,221.4"/><path d="M418.7,206.6 L421.1,209.9 L422.8,208.2"/><path d="M407.1,209.9 L407.7,210.4"/><path d="M448.3,215.4 L453.3,216.2 L460.0,218.3"/><path d="M460.0,208.2 L457.6,203.5 L457.1,198.8 L463.5,194.7 L470.6,195.3 L477.6,197.1 L484.1,196.5 L481.2,192.9 L482.4,188.8 L489.4,187.1 L496.5,185.3 L502.4,187.6 L510.6,188.2 L516.5,191.8 L522.4,195.3 L529.4,197.6 L536.5,200.0 L538.3,200.8"/><path d="M538.8,201.2 L535.3,205.9 L531.8,209.4 L529.4,212.9 L531.8,216.5"/><path d="M476.5,210.6 L478.8,210.6 L484.7,210.6 L491.8,214.1 L497.6,215.3 L503.5,220.0 L508.2,221.2 L512.9,217.6 L520.0,216.5 L531.8,216.5"/><path d="M478.8,210.6 L478.8,217.6 L484.7,217.6 L490.6,221.2 L495.3,225.9 L501.2,229.4 L505.9,230.6"/><path d="M478.8,230.6 L484.7,229.4 L489.4,230.6 L494.1,234.1 L497.6,236.5"/><path d="M497.6,236.5 L502.4,232.9 L505.9,230.6"/><path d="M505.9,230.6 L508.2,227.1 L510.6,223.5 L512.9,221.2 L517.6,222.4 L521.2,221.2 L524.7,218.8 L531.8,216.5"/><path d="M505.9,230.6 L511.8,231.8 L516.5,229.4 L520.0,230.6 L524.7,229.4"/><path d="M520.0,225.9 L524.7,227.1 L524.7,229.4"/><path d="M497.6,236.5 L495.0,243.0 L498.3,250.5 L502.0,255.0 L500.5,261.5"/><path d="M524.7,229.4 L520.0,234.1 L517.0,238.8 L513.0,243.5 L509.0,248.0 L507.0,251.0 L498.7,251.1"/><path d="M524.7,229.4 L520.0,231.0 L528.5,235.3 L532.7,236.7 L535.6,242.4 L537.0,246.7 L541.2,250.2"/><path d="M530.8,235.0 L525.9,238.7 L528.4,244.9 L525.9,252.3 L519.7,257.2 L518.5,259.7 L520.9,264.6 L517.2,265.9"/><path d="M540.7,249.8 L543.2,249.2 L548.1,252.3 L555.5,255.4 L560.5,256.6 L560.5,259.7 L554.3,259.1 L546.9,256.6 L541.3,254.1 L540.7,251.1 L540.7,249.8"/><path d="M561.7,256.0 L566.6,255.4 L567.9,257.9 L562.3,258.5 L561.7,256.0"/><path d="M567.9,255.4 L572.8,252.9 L576.5,252.3 L580.2,254.8 L583.9,257.2 L582.7,260.9 L583.9,264.6 L587.6,269.6 L590.1,272.1 L593.3,272.5 L603.3,270.0 L610.0,273.3"/><path d="M560.5,259.7 L560.5,262.8 L564.2,265.9 L562.9,270.8"/><path d="M566.6,260.9 L569.1,262.2 L570.4,265.9 L569.1,268.4"/><path d="M570.4,265.9 L574.1,259.7 L576.5,256.0 L579.0,254.8"/><path d="M590.1,272.1 L586.4,275.8 L585.2,280.7 L588.9,286.9 L588.9,294.3 L590.1,299.2"/><path d="M590.1,272.1 L593.8,277.0 L598.8,275.8"/><path d="M593.3,272.5 L600.0,276.7 L601.7,281.7 L605.0,288.3 L606.7,293.3"/><path d="M596.7,292.5 L603.3,291.7 L606.7,293.3 L608.3,298.3 L601.7,300.0"/><path d="M596.7,292.5 L593.3,290.8"/><path d="M590.0,303.3 L593.3,304.2"/><path d="M538.3,200.8 L546.7,196.7 L556.7,198.3 L560.0,194.2 L570.0,198.0 L580.0,200.0 L590.0,198.0 L598.0,191.0"/><path d="M598.0,191.0 L608.0,192.0 L616.0,198.0 L626.0,202.0 L634.0,204.0 L636.8,205.0 L636.0,208.8 L636.8,212.5 L637.5,216.3"/><path d="M637.5,216.3 L635.3,217.8 L632.3,220.0 L627.8,225.3"/><path d="M634.5,230.5 L637.5,228.3"/><path d="M538.3,200.8 L550.0,210.0 L560.0,213.0 L570.0,218.0 L584.0,220.0 L594.0,214.0 L596.0,208.0 L607.0,206.0 L598.0,202.0 L599.0,198.0 L598.0,191.0"/><path d="M114.7,201.6 L171.0,201.0 L179.0,203.0 L187.0,205.0 L191.0,208.0 L193.0,212.0 L190.0,217.0 L188.0,220.0 L193.0,218.0 L200.0,215.0 L206.0,213.0 L210.0,211.0 L214.0,207.0 L218.0,207.0 L220.0,209.0 L224.0,211.0"/><path d="M128.0,152.0 L104.1,173.5 L106.0,175.0 L112.5,175.0 L113.5,180.0 L114.5,184.0 L111.5,186.0 L110.5,191.0"/><path d="M106.2,243.2 L112.6,245.6 L118.5,246.8 L125.6,246.2 L130.3,247.9 L132.6,252.6 L136.2,251.5 L139.7,253.8 L142.1,259.7 L145.6,261.5"/><path d="M151.5,290.3 L156.2,286.8 L157.4,283.2 L160.3,283.2"/><path d="M156.2,293.8 L158.5,291.5 L162.1,290.3"/><path d="M162.1,293.8 L168.0,291.5 L172.6,290.3"/><path d="M166.8,299.7 L170.3,299.7"/><path d="M176.5,305.8 L177.0,303.8"/><path d="M200.0,298.3 L198.3,305.0 L205.0,313.3 L206.7,321.7 L210.0,325.0 L215.0,320.0 L221.7,318.3"/><path d="M223.3,307.5 L225.0,313.3 L226.7,321.7"/><path d="M230.0,315.0 L231.7,323.3"/><path d="M210.0,325.0 L218.3,323.3 L226.7,321.7 L231.7,325.0 L238.3,323.3"/><path d="M176.7,330.0 L181.7,326.7 L189.2,330.0"/><path d="M189.2,330.0 L193.3,335.0 L200.0,336.7 L201.7,325.0 L210.0,325.0"/><path d="M176.7,341.7 L181.7,336.7 L189.2,330.0"/><path d="M200.0,336.7 L195.0,341.7 L193.3,348.3 L198.3,353.3 L201.7,356.7"/><path d="M201.7,356.7 L205.0,363.3 L204.2,373.3 L205.0,378.3"/><path d="M201.7,356.7 L211.7,355.0 L215.0,360.0 L225.0,363.3 L228.3,370.0 L230.0,375.0 L231.7,380.0"/><path d="M203.9,370.0 L209.4,387.4"/><path d="M209.4,387.4 L208.5,401.2 L209.4,415.8 L210.3,430.5 L213.1,443.3 L215.8,454.3 L217.7,461.7 L225.0,465.3"/><path d="M209.4,387.4 L212.2,387.4 L221.3,386.5 L222.0,381.0 L226.0,380.0 L230.0,379.5 L233.0,382.0 L234.5,386.0 L238.0,390.0 L240.0,394.0 L239.5,400.0 L234.5,400.0 L232.0,394.0 L226.0,388.0 L221.3,386.5"/><path d="M240.0,394.0 L242.4,397.5 L239.7,403.9 L236.0,408.5 L236.9,418.6"/><path d="M230.0,379.5 L231.0,374.0 L230.5,370.0"/><path d="M236.9,407.6 L247.0,414.0"/><path d="M616.7,326.7 L623.3,325.0 L628.3,318.3 L633.3,316.7"/><path d="M687.5,336.1 L687.5,352.1"/><path d="M450.0,220.0 L455.0,221.7 L458.3,222.5 L460.0,222.0"/><path d="M456.7,223.3 L458.3,226.7 L460.0,230.0"/><path d="M441.5,233.3 L450.0,232.5 L456.7,231.7 L460.0,230.8"/><path d="M460.0,230.8 L461.7,235.0 L462.5,239.2 L465.0,243.3 L467.1,245.9 L469.4,250.0"/><path d="M450.0,232.5 L449.2,238.3 L446.7,241.7 L444.7,248.2"/><path d="M458.3,226.7 L461.0,225.5 L463.5,226.5"/><path d="M458.3,222.5 L460.5,223.0"/>
</g>
</svg>
<div class="t" id="title">Sovereign state, <span id="yr">2022</span></div>
<div class="t" id="sub">Sovereign states as identified by Butcher and Griffiths (2020). Only countries that are independent today are<br>shown in the map. Current country borders are used across time.</div>
<div id="logo"></div><div id="logobar"></div>
<div id="logotxt">Our World<br>in Data</div>
<div class="lg t" style="left:316.5px;top:518.7px;">No data</div>
<div class="lg t" style="left:389.5px;top:518.7px;">No</div>
<div class="lg t" style="left:447.4px;top:518.7px;">Yes</div>
<svg style="position:absolute;left:0;top:0" width="850" height="600">
<defs><pattern id="hatch2" patternUnits="userSpaceOnUse" width="4" height="4" patternTransform="rotate(45)"><rect width="4" height="4" fill="#fff"/><rect width="1.4" height="4" fill="#dedede"/></pattern></defs>
<rect x="332.5" y="537" width="48" height="11.5" rx="1" fill="url(#hatch2)" stroke="#c4c4c4" stroke-width="0.8"/>
<rect x="400.3" y="537" width="58.1" height="11.5" fill="#f9b25f" stroke="#9a9a9a" stroke-width="0.5"/>
<rect x="458.4" y="537" width="59.1" height="11.5" fill="#b2aed3" stroke="#9a9a9a" stroke-width="0.5"/>
<line x1="356.5" y1="534" x2="356.5" y2="537" stroke="#a6a6a6" stroke-width="1"/>
<line x1="429" y1="534" x2="429" y2="537" stroke="#a6a6a6" stroke-width="1"/>
<line x1="487.5" y1="534" x2="487.5" y2="537" stroke="#a6a6a6" stroke-width="1"/>
</svg>
<div class="t" id="foot1"><b>Data source:</b> Butcher and Griffiths (2020)</div>
<div class="t" id="foot2">OurWorldinData.org/state-capacity | CC BY</div>
</body></html>
